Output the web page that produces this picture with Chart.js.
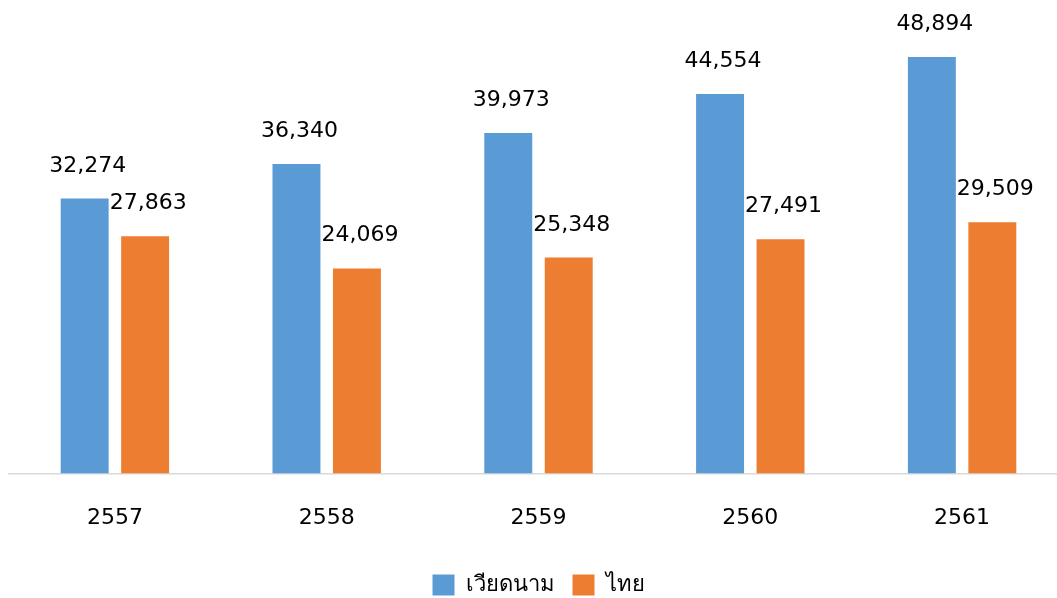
<!DOCTYPE html>
<html>
<head>
<meta charset="utf-8">
<script src="https://cdn.jsdelivr.net/npm/chart.js@4"></script>
<style>
  html, body { margin: 0; padding: 0; background: #fff; overflow: hidden; }
  #wrap { position: relative; width: 1080px; height: 606px; }
</style>
</head>
<body>
<div id="wrap"><canvas id="grafico"></canvas></div>
<script>
const anos = ['2557', '2558', '2559', '2560', '2561'];
const vietnam = [32274, 36340, 39973, 44554, 48894];
const tailandia = [27863, 24069, 25348, 27491, 29509];
const nomesSeries = ['เวียดนาม', 'ไทย'];

const fonte = 'Tahoma, "DejaVu Sans", "Noto Sans", sans-serif';

// rótulos de valor acima das barras (sem plugin externo)
const rotulos = {
  id: 'rotulos',
  afterDatasetsDraw(chart) {
    const ctx = chart.ctx;
    ctx.save();
    ctx.font = '22px ' + fonte;
    ctx.fillStyle = '#000';
    ctx.textAlign = 'center';
    ctx.textBaseline = 'alphabetic';
    chart.data.datasets.forEach((ds, i) => {
      chart.getDatasetMeta(i).data.forEach((bar, j) => {
        ctx.fillText(ds.data[j].toLocaleString('en-US'), bar.x + 3, bar.y - 27);
      });
    });
    ctx.restore();
  }
};

new Chart(document.getElementById('grafico'), {
  type: 'bar',
  data: {
    labels: anos,
    datasets: [
      { label: nomesSeries[0], data: vietnam, backgroundColor: '#5B9BD5' },
      { label: nomesSeries[1], data: tailandia, backgroundColor: '#ED7D31' }
    ]
  },
  options: {
    responsive: true,
    maintainAspectRatio: false,
    animation: false,
    categoryPercentage: 0.571,
    barPercentage: 0.793,
    layout: { padding: { left: 9, right: 12, top: 5, bottom: 0 } },
    scales: {
      x: {
        grid: { display: false },
        border: { display: true, color: '#D9D9D9', width: 1.5 },
        ticks: { color: '#000', font: { family: fonte, size: 22, lineHeight: 0.84 }, padding: 28 }
      },
      y: { display: false, min: 0, max: 55000 }
    },
    plugins: {
      legend: {
        position: 'bottom',
        labels: {
          color: '#000',
          font: { family: fonte, size: 22 },
          boxWidth: 22,
          boxHeight: 21,
          padding: 18
        }
      },
      tooltip: { enabled: false }
    }
  },
  plugins: [rotulos]
});
</script>
</body>
</html>
